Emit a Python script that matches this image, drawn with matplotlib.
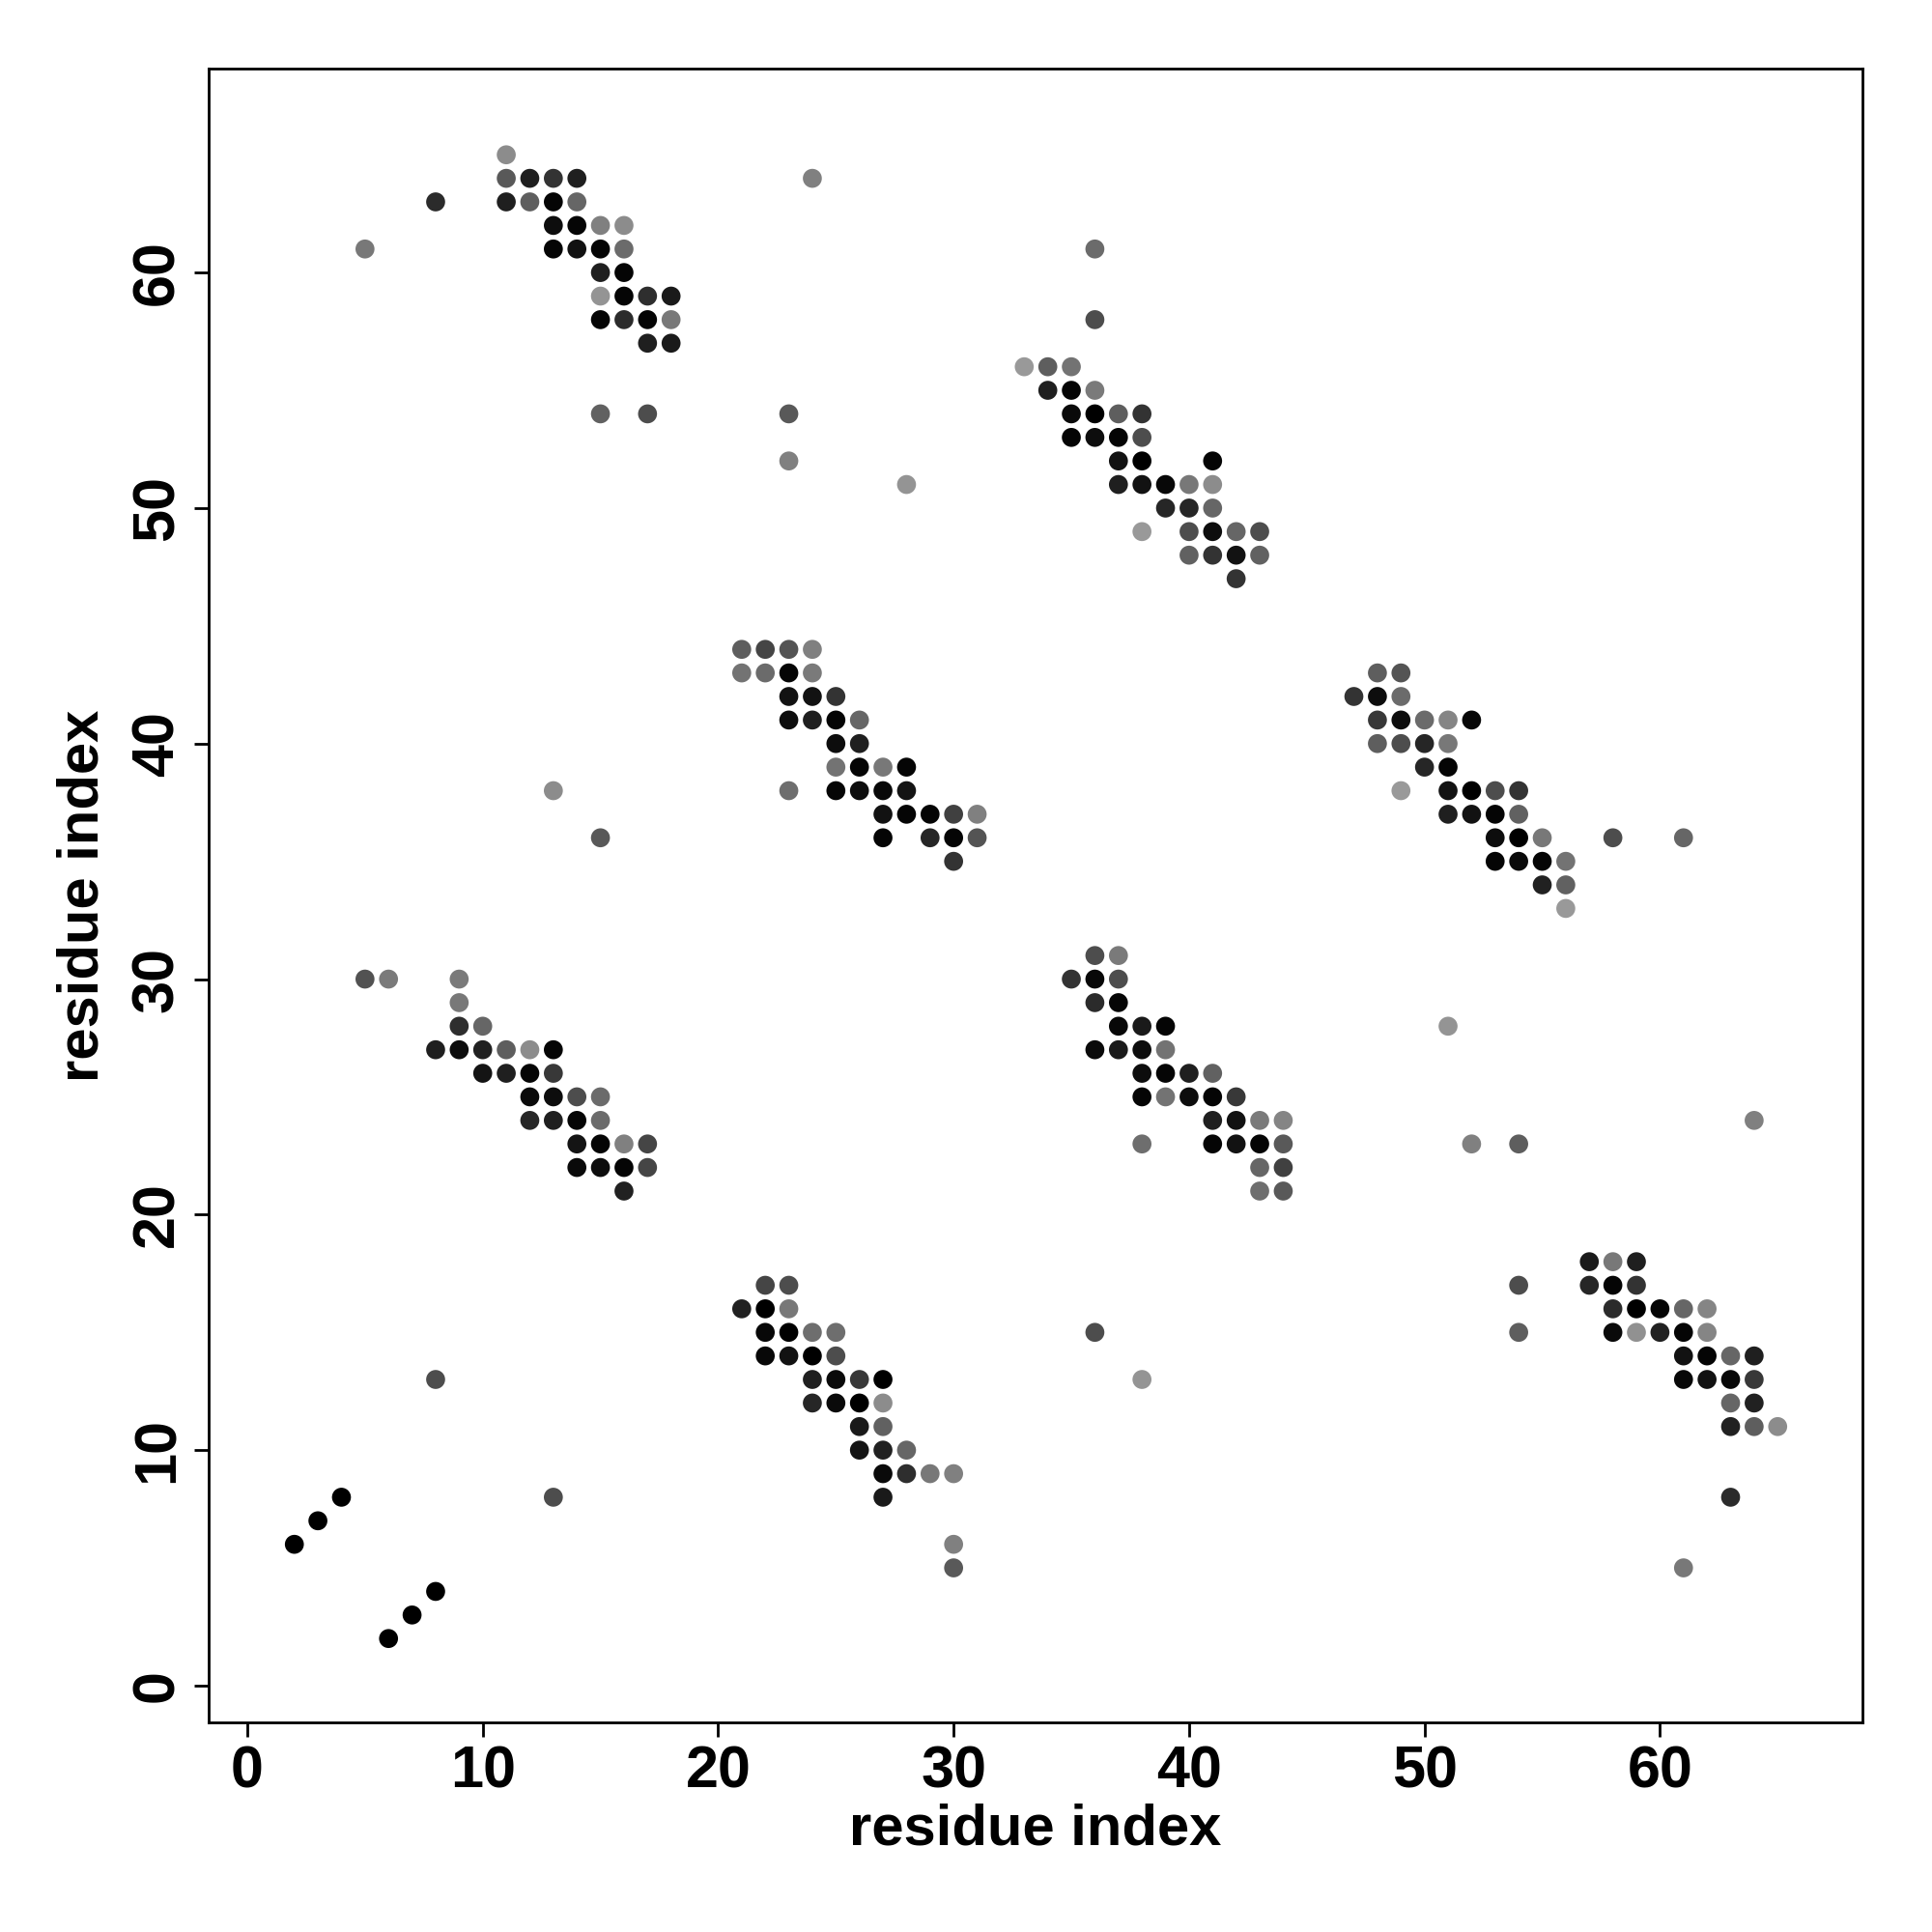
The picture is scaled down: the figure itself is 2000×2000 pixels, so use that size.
import matplotlib
matplotlib.use("Agg")
import matplotlib.pyplot as plt

# contact map: residue i, residue j, grey level (0 = black, 1 = white)
res_i = [
    11, 11, 12, 13, 14, 8, 11, 12, 13, 14, 13, 14, 15, 16, 5, 13, 14, 15, 16,
    15, 16, 15, 16, 17, 18, 15, 16, 17, 18, 17, 18, 15, 17,
    24, 23, 23, 28,
    36, 36, 33, 34, 35, 34, 35, 36, 35, 36, 37, 38, 35, 36, 37, 38,
    37, 38, 41, 37, 38, 39, 40, 41, 39, 40, 41, 38, 40, 41, 42, 43,
    40, 41, 42, 43, 42,
    21, 22, 23, 24, 21, 22, 23, 24, 23, 24, 25, 23, 24, 25, 26, 25, 26,
    25, 26, 27, 28, 23, 25, 26, 27, 28, 27, 28, 29, 30, 31, 27, 29, 30, 31, 30,
    13, 15,
    48, 49, 47, 48, 49, 48, 49, 50, 51, 52, 48, 49, 50, 51, 50, 51,
    49, 51, 52, 53, 54, 51, 52, 53, 54, 53, 54, 55, 58, 61, 53, 54, 55, 56,
    55, 56, 56,
    5, 6, 9, 9, 9, 10, 8, 9, 10, 11, 12, 13, 10, 11, 12, 13, 12, 13, 14, 15,
    12, 13, 14, 15, 14, 15, 16, 17, 14, 15, 16, 17, 16,
    36, 37, 35, 36, 37, 36, 37, 37, 38, 39, 36, 37, 38, 39, 38, 39, 40, 41,
    38, 39, 40, 41, 42, 41, 42, 43, 44, 38, 41, 42, 43, 44, 43, 44, 43, 44,
    51, 52, 54, 64,
    22, 23, 21, 22, 23, 22, 23, 24, 25, 22, 23, 24, 25, 24, 25, 26, 27,
    24, 25, 26, 27, 26, 27, 26, 27, 28, 27, 28, 29, 30, 27, 30, 30,
    36, 38, 54, 54,
    57, 58, 59, 57, 58, 59, 58, 59, 60, 61, 62, 58, 59, 60, 61, 62,
    61, 62, 63, 64, 61, 62, 63, 64, 63, 64, 63, 64, 65, 63, 61,
    8, 13, 2, 3, 4, 6, 7, 8,
]
res_j = [
    65, 64, 64, 64, 64, 63, 63, 63, 63, 63, 62, 62, 62, 62, 61, 61, 61, 61, 61,
    60, 60, 59, 59, 59, 59, 58, 58, 58, 58, 57, 57, 54, 54,
    64, 54, 52, 51,
    61, 58, 56, 56, 56, 55, 55, 55, 54, 54, 54, 54, 53, 53, 53, 53,
    52, 52, 52, 51, 51, 51, 51, 51, 50, 50, 50, 49, 49, 49, 49, 49,
    48, 48, 48, 48, 47,
    44, 44, 44, 44, 43, 43, 43, 43, 42, 42, 42, 41, 41, 41, 41, 40, 40,
    39, 39, 39, 39, 38, 38, 38, 38, 38, 37, 37, 37, 37, 37, 36, 36, 36, 36, 35,
    38, 36,
    43, 43, 42, 42, 42, 41, 41, 41, 41, 41, 40, 40, 40, 40, 39, 39,
    38, 38, 38, 38, 38, 37, 37, 37, 37, 36, 36, 36, 36, 36, 35, 35, 35, 35,
    34, 34, 33,
    30, 30, 30, 29, 28, 28, 27, 27, 27, 27, 27, 27, 26, 26, 26, 26, 25, 25, 25, 25,
    24, 24, 24, 24, 23, 23, 23, 23, 22, 22, 22, 22, 21,
    31, 31, 30, 30, 30, 29, 29, 28, 28, 28, 27, 27, 27, 27, 26, 26, 26, 26,
    25, 25, 25, 25, 25, 24, 24, 24, 24, 23, 23, 23, 23, 23, 22, 22, 21, 21,
    28, 23, 23, 24,
    17, 17, 16, 16, 16, 15, 15, 15, 15, 14, 14, 14, 14, 13, 13, 13, 13,
    12, 12, 12, 12, 11, 11, 10, 10, 10, 9, 9, 9, 9, 8, 6, 5,
    15, 13, 17, 15,
    18, 18, 18, 17, 17, 17, 16, 16, 16, 16, 16, 15, 15, 15, 15, 15,
    14, 14, 14, 14, 13, 13, 13, 13, 12, 12, 11, 11, 11, 8, 5,
    13, 8, 6, 7, 8, 2, 3, 4,
]
shade = [
    .55, .35, .12, .2, .12, .17, .12, .37, .02, .4, .05, .02, .5, .55, .47, .02, .07, .02, .42,
    .12, .02, .58, .02, .18, .1, .02, .17, .02, .47, .12, .1, .38, .3,
    .5, .35, .5, .58,
    .42, .3, .6, .37, .45, .12, .02, .48, .04, 0, .37, .2, .02, .05, .02, .3,
    .07, 0, .02, .12, .07, .03, .47, .55, .15, .15, .4, .6, .3, .05, .4, .3,
    .38, .2, .07, .38, .2,
    .37, .27, .33, .5, .45, .42, .02, .48, .07, .07, .2, .05, .12, .02, .4, .05, .12,
    .45, .02, .47, .02, .43, .02, .05, .03, .08, .07, .02, .02, .25, .5, .02, .15, .02, .33, .2,
    .55, .35,
    .37, .33, .2, .05, .42, .22, .05, .42, .52, .03, .37, .3, .15, .47, .15, .02,
    .6, .07, 0, .3, .2, .12, .07, .02, .38, .05, 0, .47, .3, .4, .02, .04, .02, .45,
    .13, .38, .6,
    .32, .48, .48, .47, .18, .4, .12, .05, .13, .37, .55, .02, .08, .12, .02, .22, .04, .05, .3, .42,
    .15, .12, .02, .42, .08, .02, .5, .27, .04, .05, .02, .27, .13,
    .3, .48, .2, .03, .3, .17, .02, .03, .1, .02, .04, .1, .05, .45, .05, .02, .12, .38,
    .02, .45, .05, .02, .22, .12, .07, .48, .52, .43, .02, .07, .02, .35, .4, .25, .43, .35,
    .58, .5, .37, .5,
    .27, .3, .13, 0, .47, .03, 0, .43, .43, .03, .07, 0, .3, .12, .04, .22, 0,
    .15, .04, 0, .55, .1, .38, .08, .13, .4, .04, .18, .47, .5, .1, .5, .35,
    .3, .58, .3, .37,
    .1, .47, .12, .15, .02, .2, .17, 0, .02, .4, .52, .04, .57, .13, .02, .52,
    .07, .02, .4, .12, .03, .07, .03, .22, .4, .13, .13, .37, .55, .17, .47,
    .3, .3, 0, 0, 0, 0, 0, 0,
]

plt.rcParams["font.family"] = ["Liberation Sans", "DejaVu Sans"]
plt.rcParams["font.weight"] = "bold"

fig = plt.figure(figsize=(10, 10), dpi=200)
ax = fig.add_axes([0.108, 0.1085, 0.856, 0.856])

ax.scatter(res_i, res_j, s=50, c=[str(g) for g in shade], linewidths=0)

ax.set_xlim(-1.64, 68.6)
ax.set_ylim(-1.56, 68.66)
ticks = [0, 10, 20, 30, 40, 50, 60]
ax.set_xticks(ticks)
ax.set_yticks(ticks)
ax.tick_params(length=5.5, width=1.0, labelsize=22, pad=3)
ax.tick_params(axis="y", labelrotation=90)
for lab in ax.get_yticklabels():
    lab.set_va("center")
for lab in ax.get_xticklabels() + ax.get_yticklabels():
    lab.set_fontweight("bold")
for sp in ax.spines.values():
    sp.set_linewidth(1.0)

ax.set_xlabel("residue index", fontsize=21.5, fontweight="bold", labelpad=1)
ax.set_ylabel("residue index", fontsize=21.5, fontweight="bold", labelpad=8)

fig.savefig("out.png", dpi=200)
